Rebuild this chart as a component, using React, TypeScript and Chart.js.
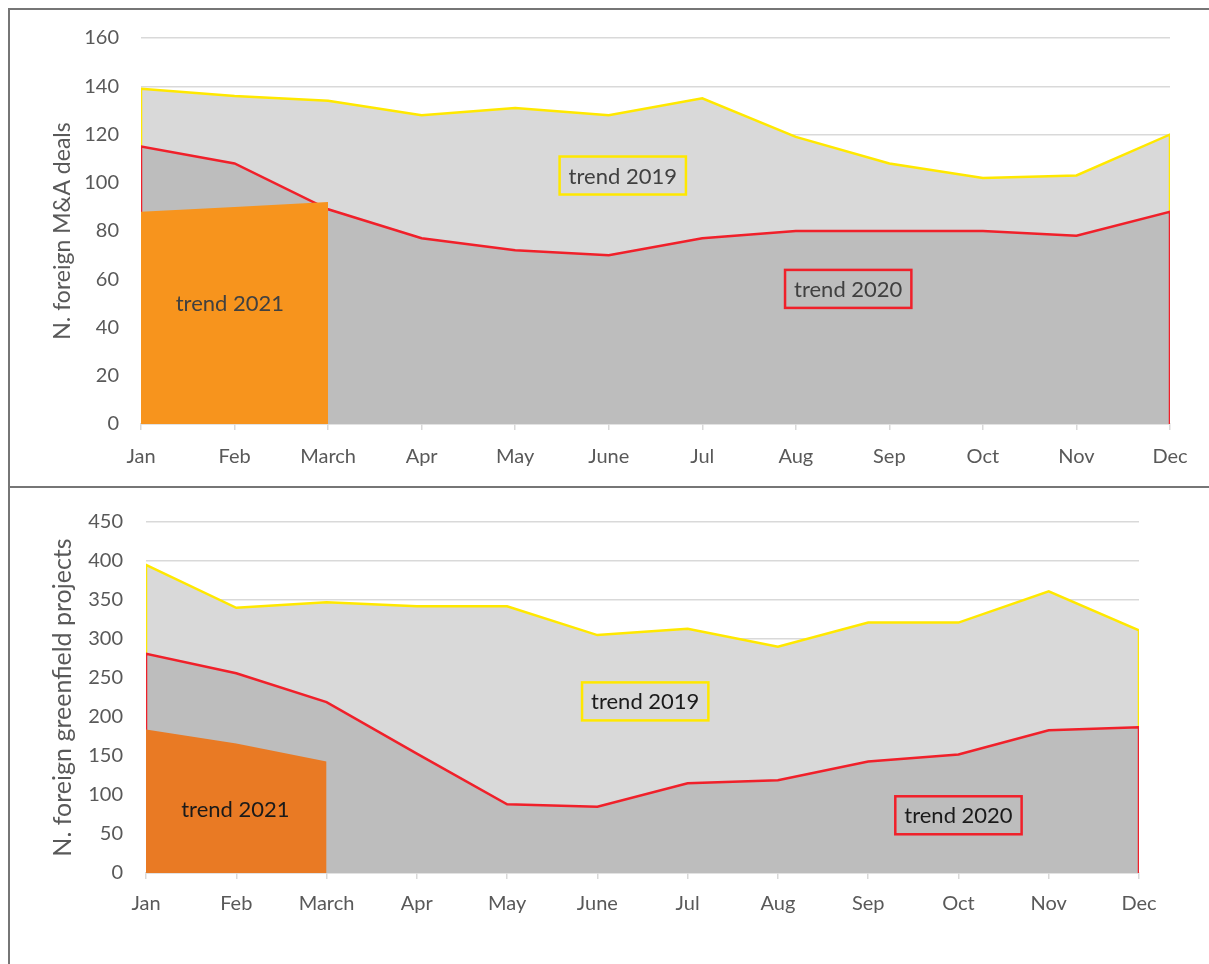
import React, { useEffect, useRef } from "react";
import { Chart, registerables } from "chart.js";

Chart.register(...registerables);

const MONTHS = ["Jan", "Feb", "March", "Apr", "May", "June", "Jul", "Aug", "Sep", "Oct", "Nov", "Dec"];

const MA_2019 = [139, 136, 134, 128, 131, 128, 135, 119, 108, 102, 103, 120];
const MA_2020 = [115, 108, 89, 77, 72, 70, 77, 80, 80, 80, 78, 88];
const MA_2021 = [88, 90, 92];
const MA_TICKS = { max: 160, step: 20 };

const GF_2019 = [395, 340, 347, 342, 342, 305, 313, 290, 321, 321, 361, 311];
const GF_2020 = [281, 256, 219, 153, 88, 85, 115, 119, 143, 152, 183, 187];
const GF_2021 = [184, 166, 143];
const GF_TICKS = { max: 450, step: 50 };

const YELLOW = "#ffe800";
const RED = "#f0202a";
const LIGHT = "#d9d9d9";
const DARK = "#bdbdbd";
const FONT = "Lato";
const TICK_COLOR = "#595959";

type Note = { text: string; x: number; y: number; box?: string };

const MA_NOTES: Note[] = [
  { text: "trend 2019", x: 5.15, y: 103, box: YELLOW },
  { text: "trend 2020", x: 7.56, y: 56, box: RED },
  { text: "trend 2021", x: 0.95, y: 50 },
];
const GF_NOTES: Note[] = [
  { text: "trend 2019", x: 5.53, y: 220, box: YELLOW },
  { text: "trend 2020", x: 9.0, y: 74, box: RED },
  { text: "trend 2021", x: 0.99, y: 82 },
];

const notesPlugin = {
  id: "notes",
  afterDatasetsDraw(chart: any, _args: any, opts: any) {
    const { ctx } = chart;
    const xs = chart.scales.x;
    const ys = chart.scales.y;
    ctx.save();
    for (const n of opts.items as Note[]) {
      const px = xs.getPixelForValue(n.x);
      const py = ys.getPixelForValue(n.y);
      ctx.font = `${opts.size}px ${FONT}`;
      ctx.textAlign = "center";
      ctx.textBaseline = "middle";
      if (n.box) {
        const w = ctx.measureText(n.text).width + 18;
        const h = 38;
        ctx.lineWidth = 2.5;
        ctx.strokeStyle = n.box;
        ctx.strokeRect(px - w / 2, py - h / 2, w, h);
      }
      ctx.fillStyle = opts.color;
      ctx.fillText(n.text, px, py + 1);
    }
    ctx.restore();
  },
};

function toPoints(values: number[], closeEnds: boolean) {
  const pts = values.map((v, i) => ({ x: i, y: v }));
  if (closeEnds) {
    return [{ x: 0, y: 0 }, ...pts, { x: values.length - 1, y: 0 }];
  }
  return pts;
}

type PanelProps = {
  s2019: number[];
  s2020: number[];
  s2021: number[];
  orange: string;
  ticks: { max: number; step: number };
  title: string;
  titleSize: number;
  notes: Note[];
  noteColor: string;
  width: number;
  height: number;
  yWidth: number;
  xHeight: number;
  pad: { top: number; right: number };
  yTickPad: number;
  xTickPad: number;
  titlePad: number;
};

function AreaPanel(p: PanelProps) {
  const ref = useRef<HTMLCanvasElement | null>(null);
  useEffect(() => {
    if (!ref.current) return;
    const chart = new Chart(ref.current, {
      type: "line",
      data: {
        datasets: [
          {
            label: "2021",
            data: toPoints(p.s2021, false),
            fill: "origin",
            backgroundColor: p.orange,
            borderColor: p.orange,
            borderWidth: 0,
            pointRadius: 0,
            tension: 0,
          },
          {
            label: "2020",
            data: toPoints(p.s2020, true),
            fill: "origin",
            backgroundColor: DARK,
            borderColor: RED,
            borderWidth: 2.5,
            pointRadius: 0,
            tension: 0,
          },
          {
            label: "2019",
            data: toPoints(p.s2019, true),
            fill: "origin",
            backgroundColor: LIGHT,
            borderColor: YELLOW,
            borderWidth: 2.5,
            pointRadius: 0,
            tension: 0,
          },
        ],
      },
      options: {
        responsive: false,
        animation: false,
        layout: { padding: { top: p.pad.top, right: p.pad.right, left: 0, bottom: 0 } },
        plugins: {
          legend: { display: false },
          tooltip: { enabled: false },
          notes: { items: p.notes, color: p.noteColor, size: 22 },
        } as any,
        scales: {
          x: {
            type: "linear",
            min: 0,
            max: MONTHS.length - 1,
            z: 1,
            ticks: {
              stepSize: 1,
              autoSkip: false,
              maxRotation: 0,
              padding: p.xTickPad,
              color: TICK_COLOR,
              font: { family: FONT, size: 20 },
              callback: (v: any) => MONTHS[Math.round(Number(v))] ?? "",
            },
            grid: {
              drawOnChartArea: false,
              drawTicks: true,
              tickLength: 6,
              color: "#d9d9d9",
              lineWidth: 1.5,
            },
            border: { display: true, color: "#d9d9d9", width: 1.5 },
            afterFit: (s: any) => {
              s.height = p.xHeight;
            },
          },
          y: {
            min: 0,
            max: p.ticks.max,
            ticks: {
              stepSize: p.ticks.step,
              padding: p.yTickPad,
              color: TICK_COLOR,
              font: { family: FONT, size: 20 },
            },
            grid: { color: "#d9d9d9", lineWidth: 1.5, drawTicks: false },
            border: { display: false },
            title: {
              display: true,
              text: p.title,
              color: TICK_COLOR,
              font: { family: FONT, size: p.titleSize },
              padding: { top: p.titlePad, bottom: 0 },
            },
            afterFit: (s: any) => {
              s.width = p.yWidth;
            },
          },
        } as any,
      },
      plugins: [notesPlugin as any],
    });
    return () => chart.destroy();
  }, []);
  return <canvas ref={ref} width={p.width} height={p.height} style={{ display: "block" }} />;
}

export default function App() {
  return (
    <div style={{ position: "absolute", left: 0, top: 0, width: 1209, height: 964, overflow: "hidden", background: "#fff" }}>
      <div
        style={{
          position: "absolute",
          left: 8,
          top: 8,
          width: 1230,
          height: 480,
          boxSizing: "border-box",
          border: "2px solid #767676",
        }}
      />
      <div
        style={{
          position: "absolute",
          left: 8,
          top: 486,
          width: 1230,
          height: 520,
          boxSizing: "border-box",
          border: "2px solid #767676",
        }}
      />
      <div style={{ position: "absolute", left: 0, top: 0 }}>
        <AreaPanel
          s2019={MA_2019}
          s2020={MA_2020}
          s2021={MA_2021}
          orange="#f7941d"
          ticks={MA_TICKS}
          title="N. foreign M&A deals"
          titleSize={23}
          notes={MA_NOTES}
          noteColor="#404040"
          width={1209}
          height={487}
          yWidth={141}
          xHeight={63}
          pad={{ top: 38, right: 39 }}
          yTickPad={22}
          xTickPad={15}
          titlePad={49}
        />
      </div>
      <div style={{ position: "absolute", left: 0, top: 487 }}>
        <AreaPanel
          s2019={GF_2019}
          s2020={GF_2020}
          s2021={GF_2021}
          orange="#e97a24"
          ticks={GF_TICKS}
          title="N. foreign greenfield projects"
          titleSize={25}
          notes={GF_NOTES}
          noteColor="#1a1a1a"
          width={1209}
          height={477}
          yWidth={146}
          xHeight={91}
          pad={{ top: 28, right: 70 }}
          yTickPad={23}
          xTickPad={13}
          titlePad={48}
        />
      </div>
    </div>
  );
}
